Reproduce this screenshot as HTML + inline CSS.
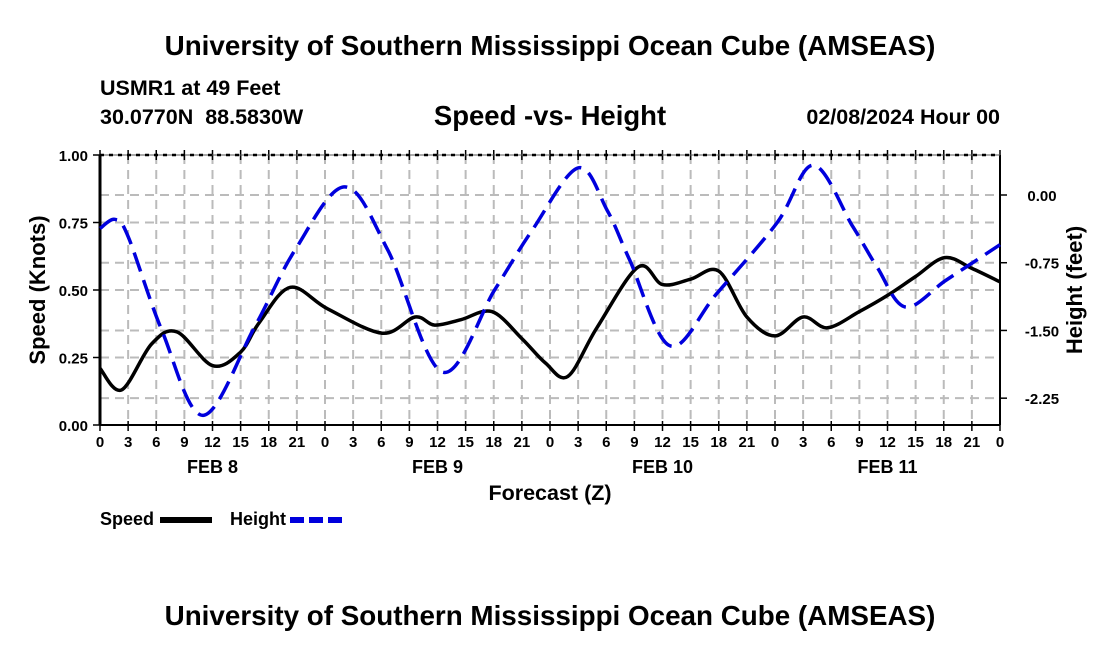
<!DOCTYPE html>
<html><head><meta charset="utf-8"><style>
body{margin:0;background:#fff;width:1100px;height:650px;overflow:hidden}
text{font-family:"Liberation Sans",Arial,sans-serif;font-weight:bold;fill:#000;white-space:pre}
</style></head><body>
<svg id="chart" width="1100" height="650" xmlns="http://www.w3.org/2000/svg" xml:space="preserve">
<text x="550" y="55" font-size="27.8" text-anchor="middle">University of Southern Mississippi Ocean Cube (AMSEAS)</text>
<text x="100" y="95" font-size="21.5">USMR1 at 49 Feet</text>
<text x="100" y="124" font-size="21.5">30.0770N  88.5830W</text>
<text x="550" y="125" font-size="27.5" text-anchor="middle">Speed -vs- Height</text>
<text x="1000" y="124" font-size="21.5" text-anchor="end">02/08/2024 Hour 00</text>
<g id="grid"></g><g id="axes"></g><g id="series"></g>
<text x="550" y="500" font-size="21.5" text-anchor="middle">Forecast (Z)</text>
<text transform="translate(45,290) rotate(-90)" font-size="22" text-anchor="middle">Speed (Knots)</text>
<text transform="translate(1082,290) rotate(-90)" font-size="22" text-anchor="middle">Height (feet)</text>
<g>
<text x="100" y="525" font-size="18">Speed</text>
<line x1="160" y1="520" x2="212" y2="520" stroke="#000" stroke-width="6"/>
<text x="230" y="525" font-size="18">Height</text>
<line x1="290" y1="520" x2="342" y2="520" stroke="#0000dd" stroke-width="6" stroke-dasharray="14,5"/>
</g>
<text x="550" y="625" font-size="27.8" text-anchor="middle">University of Southern Mississippi Ocean Cube (AMSEAS)</text>
</svg>
<script>
const hours=[0,3,6,9,12,15,18,21,24,27,30,33,36,39,42,45,48,51,54,57,60,63,66,69,72,75,78,81,84,87,90,93,96];
const speedHours=[0,2.3,5.5,8.2,12,15,17,20.3,24.3,30.1,33.6,35.7,38.5,41.8,45,47.5,49.9,53,57.4,60,63,66,69,72,75,77.6,81,84,87,90.1,93,96];
const speedValues=[0.21,0.13,0.30,0.345,0.22,0.27,0.38,0.51,0.43,0.34,0.40,0.37,0.39,0.42,0.32,0.23,0.18,0.36,0.585,0.52,0.54,0.57,0.40,0.33,0.40,0.36,0.42,0.48,0.55,0.62,0.58,0.53];
const heightHours=[0,1.6,3,6.6,11,16.5,20.8,26.1,30.7,36.5,42.1,46.1,51,54.1,56.5,60.8,65.8,72.2,76.1,80.3,82.9,85.9,90.3,96];
const heightValues=[-0.37,-0.27,-0.46,-1.5,-2.44,-1.46,-0.61,0.09,-0.61,-1.96,-1.05,-0.39,0.30,-0.17,-0.72,-1.67,-1.09,-0.31,0.33,-0.35,-0.80,-1.24,-0.94,-0.55];
const speedTicks=["0.00","0.25","0.50","0.75","1.00"];
const heightTicks=["0.00","-0.75","-1.50","-2.25"];
const dayLabels=["FEB 8","FEB 9","FEB 10","FEB 11"];
const NS="http://www.w3.org/2000/svg";
const X0=100,X1=1000,Y0=425,Y1=155;
const xs=h=>X0+h/96*(X1-X0);
const ys=v=>Y0-v*(Y0-Y1);
const yh=v=>195-v*90.3;
function mk(p,t,a){const e=document.createElementNS(NS,t);for(const k in a)e.setAttribute(k,a[k]);p.appendChild(e);return e;}
const grid=document.getElementById('grid'),axes=document.getElementById('axes'),series=document.getElementById('series');
hours.forEach(h=>{if(h>0&&h<96){const l=mk(grid,'line',{x1:xs(h),x2:xs(h),y1:Y1,y2:Y0,stroke:'#bbb','stroke-width':2,'stroke-dasharray':'9,6'});

}
const t=mk(axes,'text',{x:xs(h),y:Y0+22,'font-size':15,'text-anchor':'middle'});t.textContent=h%24;


mk(axes,'line',{x1:xs(h),x2:xs(h),y1:Y0-4,y2:Y0+6,stroke:'#000','stroke-width':1.5});
mk(axes,'line',{x1:xs(h),x2:xs(h),y1:Y1+5,y2:Y1-5,stroke:'#000','stroke-width':1.5});});
speedTicks.forEach((s,i)=>{const v=parseFloat(s),y=ys(v);
if(v>0&&v<1){const l=mk(grid,'line',{x1:X0,x2:X1,y1:y,y2:y,stroke:'#bbb','stroke-width':2,'stroke-dasharray':'9,6'});

}
mk(axes,'line',{x1:X0-7,x2:X0,y1:y,y2:y,stroke:'#000','stroke-width':1.5});
const t=mk(axes,'text',{x:X0-12,y:y+6,'font-size':15,'text-anchor':'end'});t.textContent=s;

});
heightTicks.forEach(s=>{const y=yh(parseFloat(s));
const l=mk(grid,'line',{x1:X0,x2:X1,y1:y,y2:y,stroke:'#bbb','stroke-width':2,'stroke-dasharray':'9,6'});


mk(axes,'line',{x1:X1,x2:X1+7,y1:y,y2:y,stroke:'#000','stroke-width':1.5});
const t=mk(axes,'text',{x:X1+42,y:y+6,'font-size':15,'text-anchor':'middle'});t.textContent=s;

});
dayLabels.forEach((d,i)=>{const t=mk(axes,'text',{x:xs(12+24*i),y:Y0+48,'font-size':18,'text-anchor':'middle'});t.textContent=d;

});
mk(axes,'line',{x1:X0,x2:X0,y1:Y1,y2:Y0,stroke:'#000','stroke-width':3});
mk(axes,'line',{x1:X1,x2:X1,y1:Y1,y2:Y0,stroke:'#000','stroke-width':2});
mk(axes,'line',{x1:X0,x2:X1,y1:Y0,y2:Y0,stroke:'#000','stroke-width':2});
mk(axes,'line',{x1:X0,x2:X1,y1:Y1,y2:Y1,stroke:'#555','stroke-width':1});
mk(axes,'line',{x1:X0,x2:X1,y1:Y1,y2:Y1,stroke:'#000','stroke-width':2.5,'stroke-dasharray':'4,5'});
function smooth(px){let d=`M${px[0][0]},${px[0][1]}`;for(let i=0;i<px.length-1;i++){const p0=px[i-1]||px[i],p1=px[i],p2=px[i+1],p3=px[i+2]||p2;
d+=` C${p1[0]+(p2[0]-p0[0])/6},${p1[1]+(p2[1]-p0[1])/6} ${p2[0]-(p3[0]-p1[0])/6},${p2[1]-(p3[1]-p1[1])/6} ${p2[0]},${p2[1]}`;}return d;}
const sp=mk(series,'path',{d:smooth(speedHours.map((h,i)=>[xs(h),ys(speedValues[i])])),fill:'none',stroke:'#000','stroke-width':3.5});


const hp=mk(series,'path',{d:smooth(heightHours.map((h,i)=>[xs(h),yh(heightValues[i])])),fill:'none',stroke:'#0000dd','stroke-width':3.5,'stroke-dasharray':'20,9'});


</script>
</body></html>
